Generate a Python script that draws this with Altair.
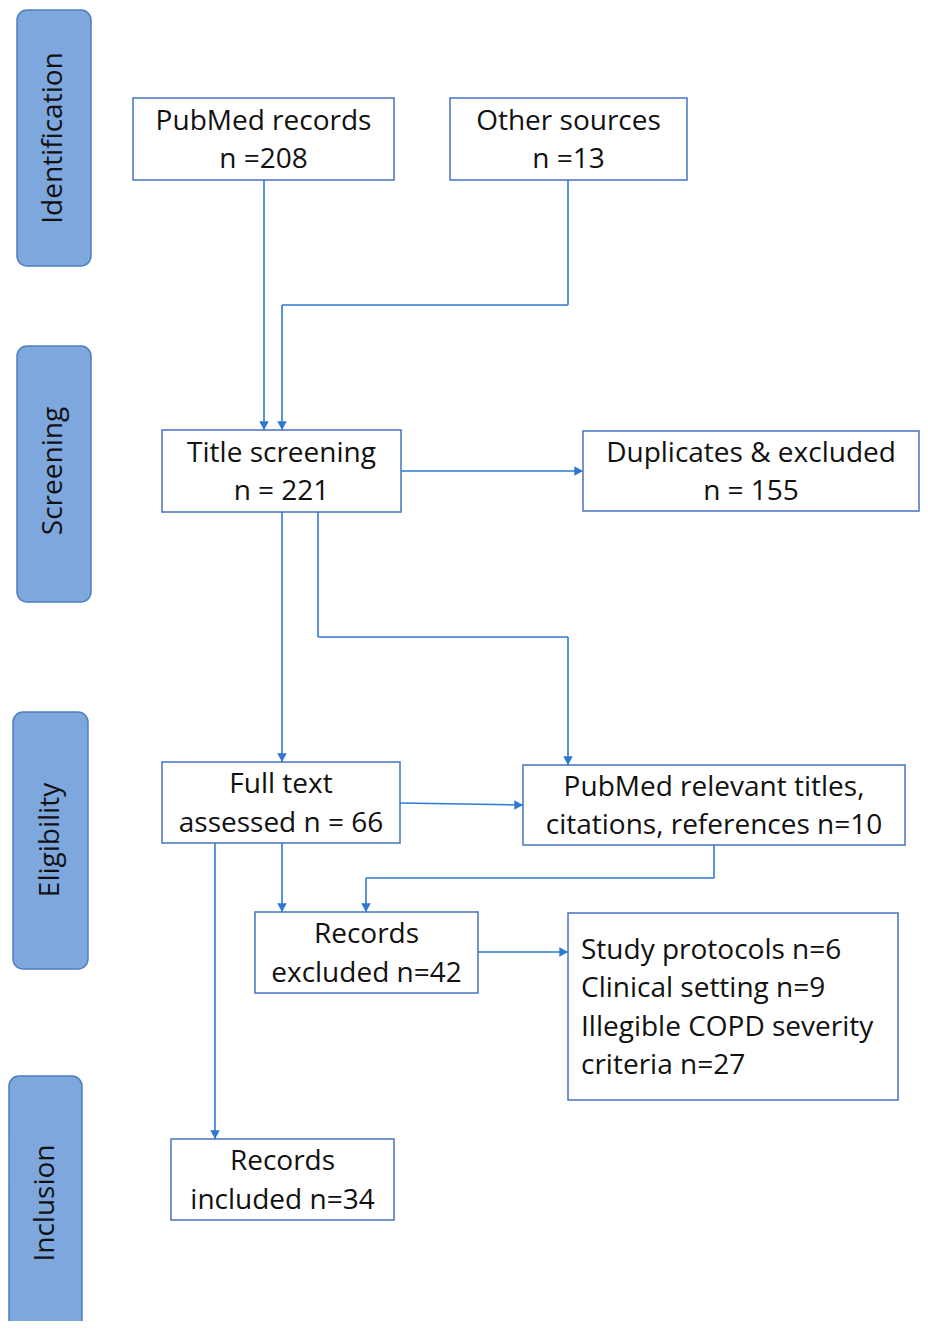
import altair as alt
import pandas as pd

# ---- content ----
phase_labels = ["Identification", "Screening", "Eligibility", "Inclusion"]
box_labels = [
    ["PubMed records", "n =208"],
    ["Other sources", "n =13"],
    ["Title screening", "n = 221"],
    ["Duplicates & excluded", "n = 155"],
    ["Full text", "assessed n = 66"],
    ["PubMed relevant titles,", "citations, references n=10"],
    ["Records", "excluded n=42"],
    ["Records", "included n=34"],
]
reasons_lines = ["Study protocols n=6", "Clinical setting n=9", "Illegible COPD severity", "criteria n=27"]

# ---- layout (page pixel coordinates) ----
phase_x0 = [17, 17, 13, 9]
phase_x1 = [91, 91, 88, 82]
phase_y0 = [10, 346, 712, 1076]
phase_y1 = [266, 602, 969, 1345]
phase_cy = [138, 471, 840, 1203]

box_x0 = [133, 450, 162, 583, 162, 523, 255, 171]
box_x1 = [394, 687, 401, 919, 400, 905, 478, 394]
box_y0 = [98, 98, 430, 431, 762, 765, 912, 1139]
box_y1 = [180, 180, 512, 511, 843, 845, 993, 1220]

rb = dict(x0=568, x1=898, y0=913, y1=1100, tx=581)

seg_x = [264, 568, 568, 282, 401, 282, 318, 318, 568, 400, 714, 714, 366, 282, 215, 478]
seg_y = [180, 180, 305, 305, 471, 512, 512, 637, 637, 803, 845, 878, 878, 843, 843, 952]
seg_x2 = [264, 568, 282, 282, 582, 282, 318, 568, 568, 523, 714, 366, 366, 282, 215, 568]
seg_y2 = [430, 305, 305, 430, 471, 762, 637, 637, 765, 805, 878, 878, 912, 912, 1139, 952]

down_x = [264, 282, 282, 568, 366, 282, 215]
down_y = [430, 430, 762, 765, 912, 912, 1139]
right_x = [583, 523, 568]
right_y = [471, 805, 952]

W, H = 912, 1313
XD = [8, 8 + W]
YD = [8 + H, 8]
LH = 38.3

FONT = "Open Sans"
LINE = "#2f78d2"
BOXSTROKE = "#4674c0"
PHASEFILL = "#7ea7de"
PHASESTROKE = "#4d7fbf"
TXT = "#111111"

xs = alt.Scale(domain=XD, nice=False, zero=False)
ys = alt.Scale(domain=YD, nice=False, zero=False)
X = lambda f: alt.X(f, scale=xs, axis=None)
Y = lambda f: alt.Y(f, scale=ys, axis=None)

phases = pd.DataFrame(dict(label=phase_labels, x0=phase_x0, x1=phase_x1, y0=phase_y0, y1=phase_y1, cy=phase_cy))
phases["cx"] = (phases.x0 + phases.x1) / 2

boxes = pd.DataFrame(dict(x0=box_x0, x1=box_x1, y0=box_y0, y1=box_y1))
rows = []
for i, lines in enumerate(box_labels):
    cx = (box_x0[i] + box_x1[i]) / 2
    cy = (box_y0[i] + box_y1[i]) / 2
    n = len(lines)
    for j, t in enumerate(lines):
        rows.append(dict(text=t, x=cx, y=cy + (j - (n - 1) / 2) * LH))
box_lines = pd.DataFrame(rows)

reasons = pd.DataFrame([dict(x0=rb["x0"], x1=rb["x1"], y0=rb["y0"], y1=rb["y1"])])
rcy = (rb["y0"] + rb["y1"]) / 2
n = len(reasons_lines)
reason_lines = pd.DataFrame([dict(text=t, x=rb["tx"], y=rcy + (j - (n - 1) / 2) * LH)
                             for j, t in enumerate(reasons_lines)])

segs = pd.DataFrame(dict(x=seg_x, y=seg_y, x2=seg_x2, y2=seg_y2))
downs = pd.DataFrame(dict(x=down_x, y=down_y))
rights = pd.DataFrame(dict(x=right_x, y=right_y))

phase_rect = alt.Chart(phases).mark_rect(
    fill=PHASEFILL, stroke=PHASESTROKE, strokeWidth=1.5, cornerRadius=10, clip=True
).encode(x=X("x0:Q"), x2="x1:Q", y=Y("y0:Q"), y2="y1:Q")

phase_text = alt.Chart(phases).mark_text(
    angle=270, font=FONT, fontSize=28, color=TXT, align="center", baseline="middle"
).encode(x=X("cx:Q"), y=Y("cy:Q"), text="label:N")

rules = alt.Chart(segs).mark_rule(color=LINE, strokeWidth=1.6).encode(
    x=X("x:Q"), y=Y("y:Q"), x2="x2:Q", y2="y2:Q")

box_rect = alt.Chart(boxes).mark_rect(
    fill="white", stroke=BOXSTROKE, strokeWidth=1.5
).encode(x=X("x0:Q"), x2="x1:Q", y=Y("y0:Q"), y2="y1:Q")

box_text = alt.Chart(box_lines).mark_text(
    font=FONT, fontSize=28, color=TXT, align="center", baseline="middle", dy=2
).encode(x=X("x:Q"), y=Y("y:Q"), text="text:N")

reason_rect = alt.Chart(reasons).mark_rect(
    fill="white", stroke=BOXSTROKE, strokeWidth=1.5
).encode(x=X("x0:Q"), x2="x1:Q", y=Y("y0:Q"), y2="y1:Q")

reason_text = alt.Chart(reason_lines).mark_text(
    font=FONT, fontSize=28, color=TXT, align="left", baseline="middle", dy=2
).encode(x=X("x:Q"), y=Y("y:Q"), text="text:N")

down_heads = alt.Chart(downs).mark_point(
    shape="M-0.55,-1L0.55,-1L0,0Z", filled=True, color=LINE, opacity=1, size=300, strokeWidth=0
).encode(x=X("x:Q"), y=Y("y:Q"))

right_heads = alt.Chart(rights).mark_point(
    shape="M-1,-0.55L-1,0.55L0,0Z", filled=True, color=LINE, opacity=1, size=300, strokeWidth=0
).encode(x=X("x:Q"), y=Y("y:Q"))

chart = alt.layer(
    phase_rect, phase_text, rules, box_rect, box_text, reason_rect, reason_text, down_heads, right_heads
).properties(width=W, height=H, padding=0, autosize=alt.AutoSizeParams(type="none")).configure_view(stroke=None)

chart.save("out.html", embed_options={"renderer": "svg", "actions": False})
